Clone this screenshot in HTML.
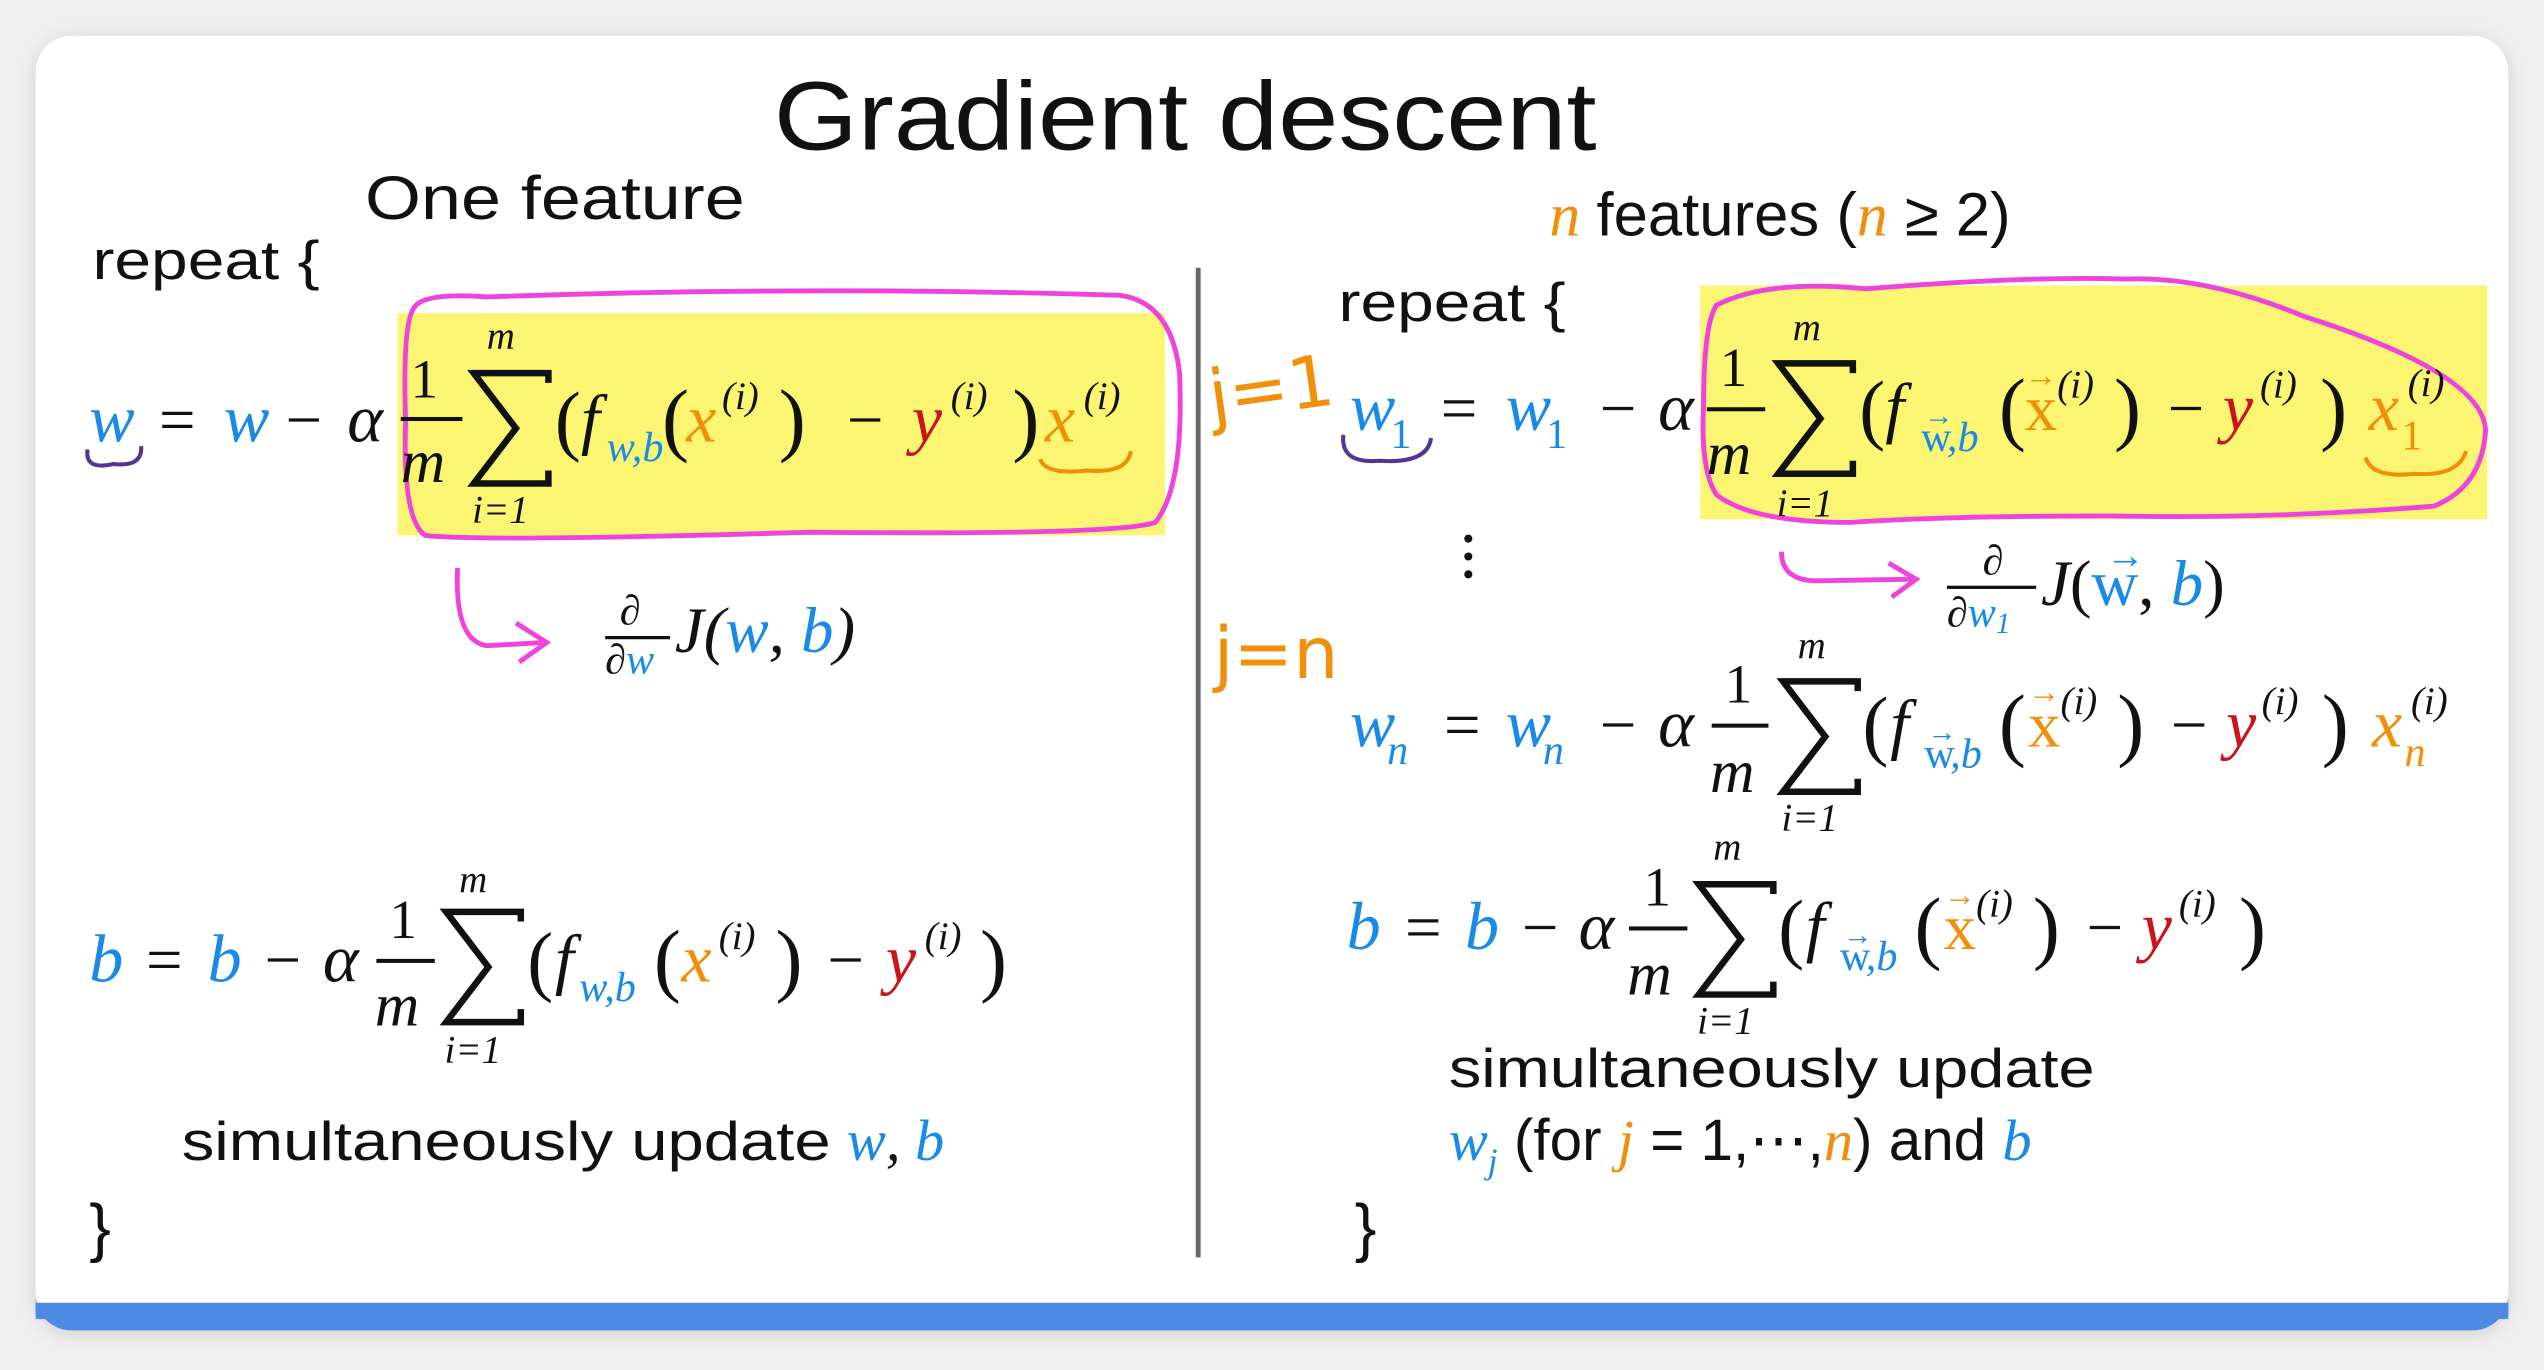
<!DOCTYPE html>
<html><head><meta charset="utf-8"><style>
html,body{margin:0;padding:0;background:#efefef;}
svg{display:block;}
.s{font-family:"Liberation Sans Narrow","Liberation Sans",sans-serif;fill:#111;}
.m{font-family:"Liberation Serif",serif;font-style:italic;fill:#111;}
.r{font-family:"Liberation Serif",serif;fill:#111;}
.b{fill:#1a8ae8}.o{fill:#f0900a}.d{fill:#c8141a}
.sig{fill:none;stroke:#111;stroke-width:4;stroke-linejoin:miter;}
</style></head><body>
<svg width="2544" height="1370" viewBox="0 0 1568 844.4" xmlns="http://www.w3.org/2000/svg">
<defs><filter id="sh" x="-5%" y="-5%" width="110%" height="110%"><feGaussianBlur stdDeviation="6"/></filter></defs>
<rect x="22" y="24" width="1524" height="798" rx="22" fill="#000" opacity="0.12" filter="url(#sh)"/>
<rect x="22" y="22" width="1524" height="798" rx="22" fill="#fff"/>
<rect x="22" y="803" width="1524" height="10" fill="#4d8ae6"/>
<path d="M22 810 V798 A22 22 0 0 0 44 820 H1524 A22 22 0 0 0 1546 798 V810 Z" fill="#4d8ae6"/>

<text class="s" x="477" y="92" font-size="60" textLength="507" lengthAdjust="spacingAndGlyphs">Gradient descent</text>
<text class="s" x="225" y="135" font-size="38" textLength="234" lengthAdjust="spacingAndGlyphs">One feature</text>
<text class="s" x="57" y="172" font-size="34" textLength="140" lengthAdjust="spacingAndGlyphs">repeat {</text>

<rect x="245" y="193" width="473" height="137" fill="#fbf572"/>
<path d="M255 190 Q260 180 300 183 Q500 176 690 182 Q722 186 727 230 Q730 300 712 322 Q690 330 500 328 Q300 334 262 330 Q248 320 250 260 Q248 200 255 190 Z" fill="none" stroke="#ee44dd" stroke-width="3"/>

<!-- left w equation -->
<text class="m b" x="55" y="272" font-size="42">w</text>
<text class="r" x="98" y="272" font-size="40">=</text>
<text class="m b" x="138" y="272" font-size="42">w</text>
<text class="r" x="176" y="272" font-size="40">−</text>
<text class="m" x="214" y="272" font-size="42">α</text>
<text class="r" x="253" y="245" font-size="34">1</text>
<rect x="247" y="257" width="38" height="2.5" fill="#111"/>
<text class="m" x="247" y="297" font-size="38">m</text>
<path class="sig" d="M338 236 V230 H292 L318 264 L292 298 H338 V290"/>
<text class="m" x="300" y="215" font-size="24">m</text>
<text class="m" x="291" y="322" font-size="24">i=1</text>
<text class="r" x="342" y="275" font-size="48">(</text>
<text class="m" x="358" y="272" font-size="42">f</text>
<text class="m b" x="374" y="284" font-size="26">w,b</text>
<text class="r" x="408" y="275" font-size="50">(</text>
<text class="m o" x="423" y="272" font-size="42">x</text>
<text class="m" x="445" y="252" font-size="24">(i)</text>
<text class="r" x="480" y="275" font-size="50">)</text>
<text class="r" x="522" y="272" font-size="40">−</text>
<text class="m d" x="562" y="272" font-size="42">y</text>
<text class="m" x="586" y="252" font-size="24">(i)</text>
<text class="r" x="624" y="275" font-size="50">)</text>
<text class="m o" x="644" y="272" font-size="42">x</text>
<text class="m" x="668" y="252" font-size="24">(i)</text>
<path d="M54 277 Q52 290 70 286 Q88 288 87 275" fill="none" stroke="#553399" stroke-width="2.5"/>
<path d="M641 283 Q645 293 670 290 Q695 292 697 278" fill="none" stroke="#f0900a" stroke-width="2.5"/>

<path d="M282 350 Q280 395 300 398 L336 396" fill="none" stroke="#ee44dd" stroke-width="3"/>
<path d="M318 384 L337 396 L320 408" fill="none" stroke="#ee44dd" stroke-width="3"/>
<text class="m" x="382" y="385" font-size="26">∂</text>
<rect x="373" y="392" width="40" height="2" fill="#111"/>
<text class="m" x="373" y="415" font-size="26">∂<tspan class="b">w</tspan></text>
<text class="m" x="416" y="402" font-size="40">J<tspan class="r">(</tspan><tspan class="b">w</tspan><tspan class="r">, </tspan><tspan class="b">b</tspan><tspan class="r">)</tspan></text>

<!-- left b equation -->
<text class="m b" x="55" y="605" font-size="42">b</text>
<text class="r" x="90" y="605" font-size="40">=</text>
<text class="m b" x="128" y="605" font-size="42">b</text>
<text class="r" x="163" y="605" font-size="40">−</text>
<text class="m" x="199" y="605" font-size="42">α</text>
<text class="r" x="240" y="578" font-size="34">1</text>
<rect x="232" y="591" width="36" height="2.5" fill="#111"/>
<text class="m" x="231" y="632" font-size="38">m</text>
<path class="sig" d="M321 568 V562 H275 L301 596 L275 630 H321 V622"/>
<text class="m" x="283" y="550" font-size="24">m</text>
<text class="m" x="274" y="655" font-size="24">i=1</text>
<text class="r" x="325" y="608" font-size="48">(</text>
<text class="m" x="342" y="605" font-size="42">f</text>
<text class="m b" x="357" y="617" font-size="26">w,b</text>
<text class="r" x="403" y="608" font-size="50">(</text>
<text class="m o" x="420" y="605" font-size="42">x</text>
<text class="m" x="443" y="585" font-size="24">(i)</text>
<text class="r" x="478" y="608" font-size="50">)</text>
<text class="r" x="510" y="605" font-size="40">−</text>
<text class="m d" x="546" y="605" font-size="42">y</text>
<text class="m" x="570" y="585" font-size="24">(i)</text>
<text class="r" x="604" y="608" font-size="50">)</text>

<text class="s" x="112" y="715" font-size="34" textLength="400" lengthAdjust="spacingAndGlyphs">simultaneously update</text>
<text class="m b" x="522" y="715" font-size="36">w<tspan class="r" fill="#111">, </tspan>b</text>
<text class="s" x="55" y="770" font-size="40">}</text>

<rect x="737" y="165" width="3" height="610" fill="#666"/>

<text x="955" y="145" font-size="38"><tspan class="m o">n</tspan><tspan class="s" dx="10">features (</tspan><tspan class="m o">n</tspan><tspan class="s"> ≥ 2)</tspan></text>
<text class="s" x="825" y="198" font-size="34" textLength="140" lengthAdjust="spacingAndGlyphs">repeat {</text>

<rect x="1048" y="176" width="485" height="144" fill="#fbf572"/>
<path d="M1058 188 Q1090 172 1150 178 Q1250 170 1310 172 Q1360 170 1420 195 Q1530 230 1532 265 Q1530 300 1500 312 Q1400 320 1300 318 Q1200 318 1140 322 Q1080 322 1058 305 Q1048 290 1050 250 Q1050 200 1058 188 Z" fill="none" stroke="#ee44dd" stroke-width="3"/>

<text x="745" y="255" font-size="44" font-family="'DejaVu Sans',sans-serif" fill="#f0900a" transform="rotate(-8 780 240)">j=1</text>

<!-- w1 -->
<text class="m b" x="832" y="265" font-size="42">w</text>
<text class="r b" x="857" y="276" font-size="26">1</text>
<text class="r" x="888" y="265" font-size="40">=</text>
<text class="m b" x="928" y="265" font-size="42">w</text>
<text class="r b" x="953" y="276" font-size="26">1</text>
<text class="r" x="986" y="265" font-size="40">−</text>
<text class="m" x="1022" y="265" font-size="42">α</text>
<text class="r" x="1060" y="238" font-size="34">1</text>
<rect x="1052" y="251" width="36" height="2.5" fill="#111"/>
<text class="m" x="1052" y="292" font-size="38">m</text>
<path class="sig" d="M1142 230 V224 H1096 L1122 258 L1096 292 H1142 V284"/>
<text class="m" x="1105" y="210" font-size="24">m</text>
<text class="m" x="1095" y="318" font-size="24">i=1</text>
<text class="r" x="1146" y="268" font-size="48">(</text>
<text class="m" x="1162" y="265" font-size="42">f</text>
<text class="r b" x="1184" y="278" font-size="26">w</text><text class="m b" x="1200" y="278" font-size="26">,b</text>
<text class="r b" x="1186" y="262" font-size="18">→</text>
<text class="r" x="1232" y="268" font-size="50">(</text>
<text class="r o" x="1248" y="265" font-size="40">x</text>
<text class="r o" x="1248" y="238" font-size="20">→</text>
<text class="m" x="1268" y="245" font-size="24">(i)</text>
<text class="r" x="1303" y="268" font-size="50">)</text>
<text class="r" x="1336" y="265" font-size="40">−</text>
<text class="m d" x="1370" y="265" font-size="42">y</text>
<text class="m" x="1393" y="245" font-size="24">(i)</text>
<text class="r" x="1430" y="268" font-size="50">)</text>
<text class="m o" x="1460" y="265" font-size="42">x</text>
<text class="r o" x="1480" y="277" font-size="26">1</text>
<text class="m" x="1484" y="244" font-size="24">(i)</text>
<path d="M828 268 Q826 286 850 284 Q880 286 882 270" fill="none" stroke="#553399" stroke-width="2.5"/>
<path d="M1458 282 Q1462 295 1488 292 Q1515 294 1520 278" fill="none" stroke="#f0900a" stroke-width="2.5"/>

<circle cx="905" cy="332" r="2.5" fill="#111"/><circle cx="905" cy="343" r="2.5" fill="#111"/><circle cx="905" cy="354" r="2.5" fill="#111"/>

<path d="M1098 340 Q1098 358 1120 358 L1180 357" fill="none" stroke="#ee44dd" stroke-width="3"/>
<path d="M1164 347 L1181 357 L1166 368" fill="none" stroke="#ee44dd" stroke-width="3"/>
<text class="m" x="1222" y="354" font-size="26">∂</text>
<rect x="1200" y="361" width="55" height="2" fill="#111"/>
<text class="m" x="1200" y="386" font-size="26">∂<tspan class="b">w</tspan><tspan class="r b" font-size="18" dy="4">1</tspan></text>
<text x="1258" y="373" font-size="40"><tspan class="m">J</tspan><tspan class="r">(</tspan><tspan class="r b">w</tspan><tspan class="r">, </tspan><tspan class="m b">b</tspan><tspan class="r">)</tspan></text>
<text class="r b" x="1298" y="350" font-size="24">→</text>

<text x="748" y="418" font-size="44" font-family="'DejaVu Sans',sans-serif" fill="#f0900a">j=n</text>

<!-- wn -->
<text class="m b" x="832" y="460" font-size="42">w</text>
<text class="m b" x="855" y="471" font-size="26">n</text>
<text class="r" x="890" y="460" font-size="40">=</text>
<text class="m b" x="928" y="460" font-size="42">w</text>
<text class="m b" x="951" y="471" font-size="26">n</text>
<text class="r" x="986" y="460" font-size="40">−</text>
<text class="m" x="1022" y="460" font-size="42">α</text>
<text class="r" x="1063" y="433" font-size="34">1</text>
<rect x="1055" y="446" width="35" height="2.5" fill="#111"/>
<text class="m" x="1054" y="488" font-size="38">m</text>
<path class="sig" d="M1145 426 V420 H1099 L1125 454 L1099 488 H1145 V480"/>
<text class="m" x="1108" y="406" font-size="24">m</text>
<text class="m" x="1098" y="512" font-size="24">i=1</text>
<text class="r" x="1148" y="463" font-size="48">(</text>
<text class="m" x="1165" y="460" font-size="42">f</text>
<text class="r b" x="1186" y="473" font-size="26">w</text><text class="m b" x="1202" y="473" font-size="26">,b</text>
<text class="r b" x="1188" y="457" font-size="18">→</text>
<text class="r" x="1232" y="463" font-size="50">(</text>
<text class="r o" x="1250" y="460" font-size="40">x</text>
<text class="r o" x="1250" y="433" font-size="20">→</text>
<text class="m" x="1270" y="440" font-size="24">(i)</text>
<text class="r" x="1305" y="463" font-size="50">)</text>
<text class="r" x="1338" y="460" font-size="40">−</text>
<text class="m d" x="1372" y="460" font-size="42">y</text>
<text class="m" x="1394" y="440" font-size="24">(i)</text>
<text class="r" x="1431" y="463" font-size="50">)</text>
<text class="m o" x="1462" y="460" font-size="42">x</text>
<text class="m o" x="1482" y="472" font-size="26">n</text>
<text class="m" x="1486" y="440" font-size="24">(i)</text>

<!-- right b -->
<text class="m b" x="830" y="585" font-size="42">b</text>
<text class="r" x="866" y="585" font-size="40">=</text>
<text class="m b" x="903" y="585" font-size="42">b</text>
<text class="r" x="938" y="585" font-size="40">−</text>
<text class="m" x="973" y="585" font-size="42">α</text>
<text class="r" x="1013" y="558" font-size="34">1</text>
<rect x="1004" y="571" width="36" height="2.5" fill="#111"/>
<text class="m" x="1003" y="613" font-size="38">m</text>
<path class="sig" d="M1093 551 V545 H1047 L1073 579 L1047 613 H1093 V605"/>
<text class="m" x="1056" y="530" font-size="24">m</text>
<text class="m" x="1046" y="637" font-size="24">i=1</text>
<text class="r" x="1096" y="588" font-size="48">(</text>
<text class="m" x="1113" y="585" font-size="42">f</text>
<text class="r b" x="1134" y="598" font-size="26">w</text><text class="m b" x="1150" y="598" font-size="26">,b</text>
<text class="r b" x="1136" y="582" font-size="18">→</text>
<text class="r" x="1180" y="588" font-size="50">(</text>
<text class="r o" x="1198" y="585" font-size="40">x</text>
<text class="r o" x="1198" y="558" font-size="20">→</text>
<text class="m" x="1218" y="565" font-size="24">(i)</text>
<text class="r" x="1253" y="588" font-size="50">)</text>
<text class="r" x="1286" y="585" font-size="40">−</text>
<text class="m d" x="1320" y="585" font-size="42">y</text>
<text class="m" x="1343" y="565" font-size="24">(i)</text>
<text class="r" x="1380" y="588" font-size="50">)</text>

<text class="s" x="893" y="670" font-size="34" textLength="398" lengthAdjust="spacingAndGlyphs">simultaneously update</text>
<text x="893" y="715" font-size="36"><tspan class="m b">w</tspan><tspan class="m b" font-size="22" dy="8">j</tspan><tspan class="s" dy="-8" dx="10">(for </tspan><tspan class="m o">j</tspan><tspan class="s"> = 1,⋯,</tspan><tspan class="m o">n</tspan><tspan class="s">) and </tspan><tspan class="m b">b</tspan></text>
<text class="s" x="835" y="770" font-size="40">}</text>
</svg>
</body></html>
